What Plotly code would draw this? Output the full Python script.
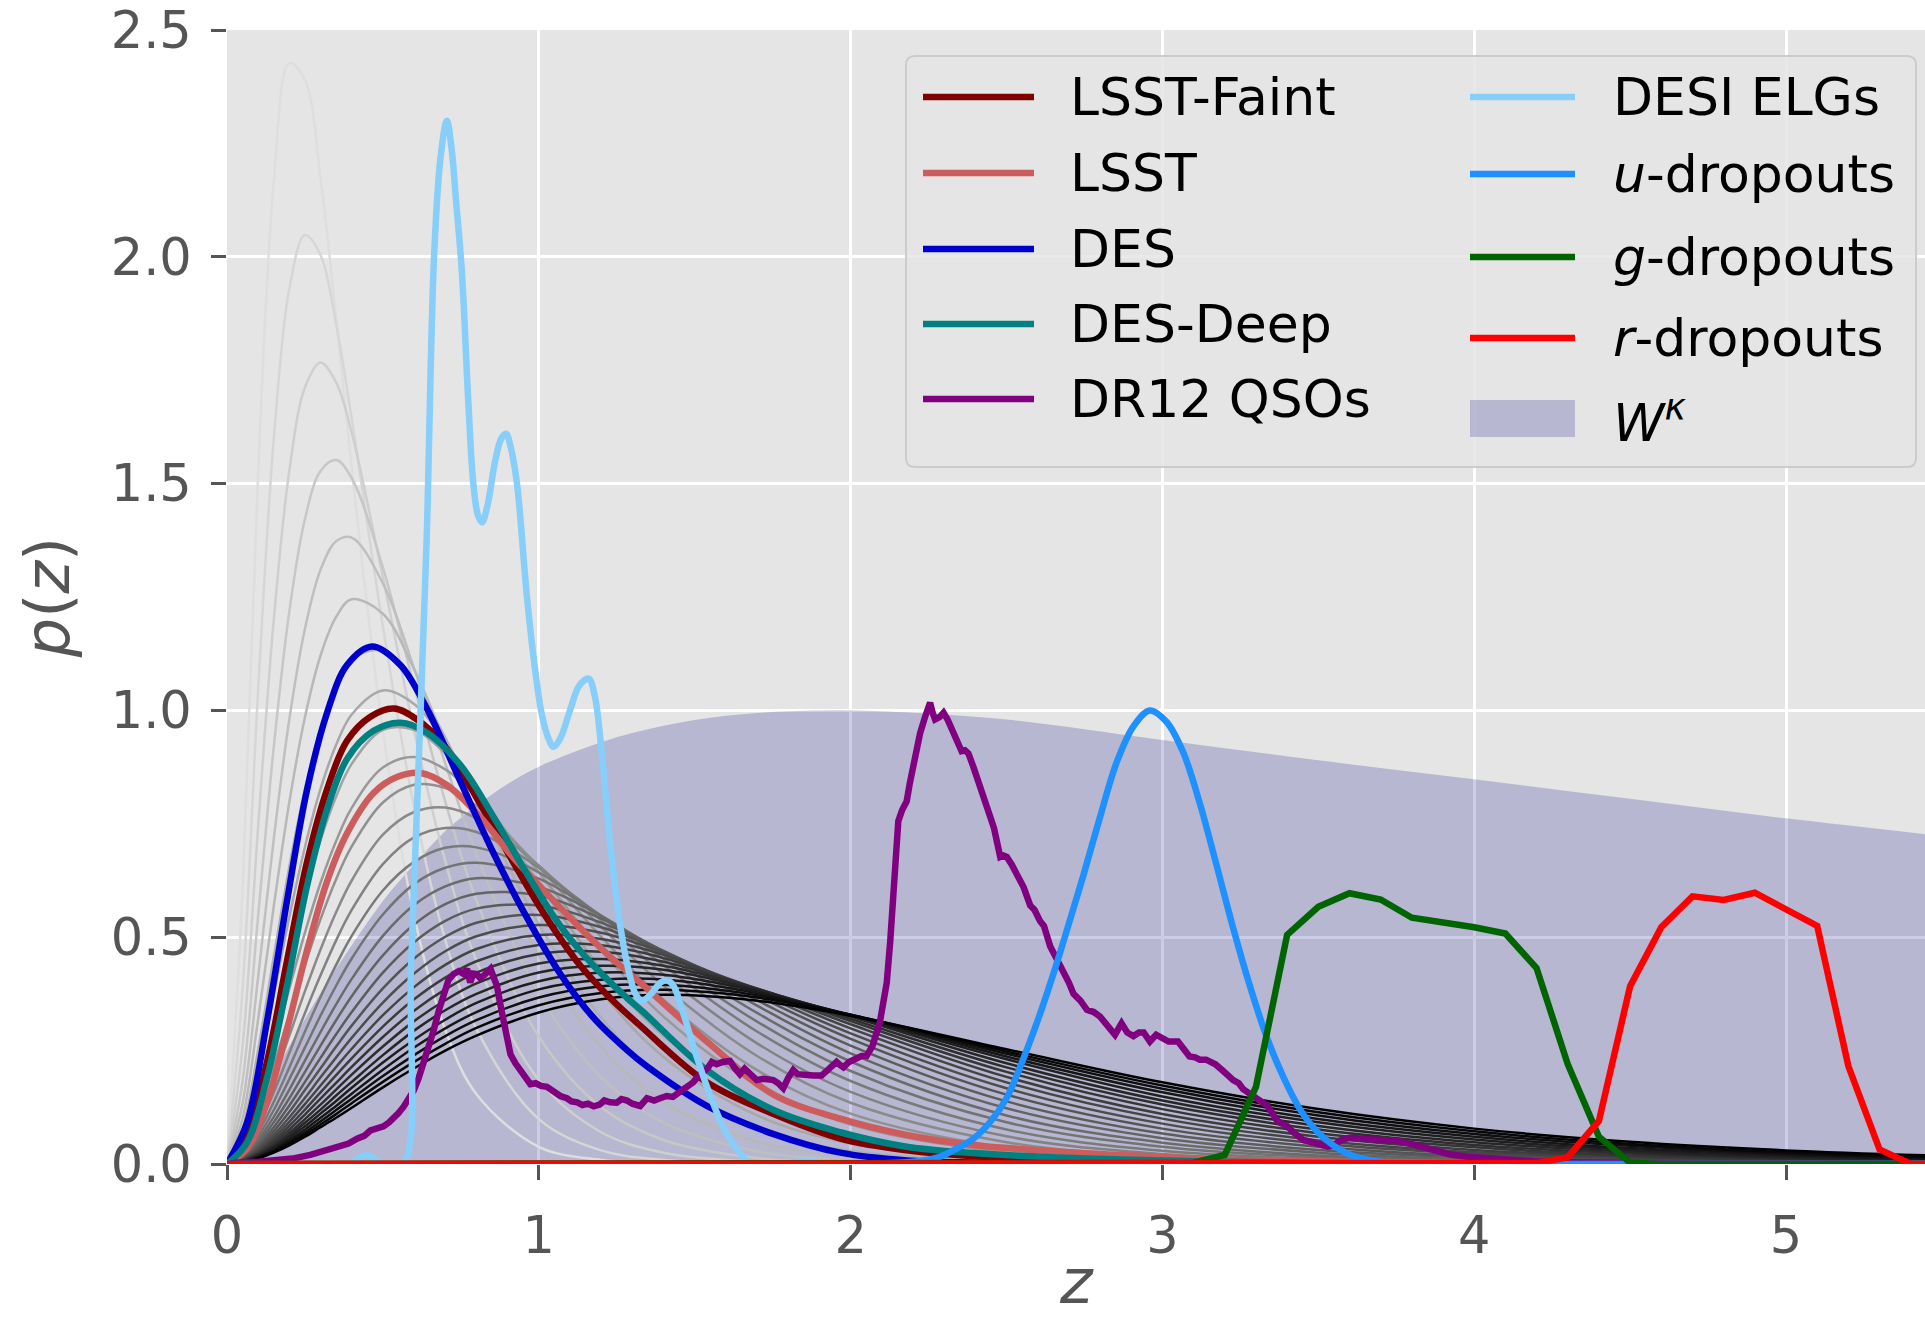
import plotly.graph_objects as go

# ---------------------------------------------------------------------------
# Redshift distributions p(z)
# ---------------------------------------------------------------------------
LSST_FAINT_Z = [0, 0.064, 0.128, 0.192, 0.257, 0.321, 0.385, 0.46, 0.535, 0.609, 0.695, 0.80,
                0.909, 1.016, 1.123, 1.229, 1.325, 1.539, 1.753, 1.967, 2.18, 2.394, 2.607,
                3.0, 3.5, 4.0, 5.5]
LSST_FAINT_P = [0, 0.065, 0.224, 0.446, 0.667, 0.826, 0.933, 0.986, 1.004, 0.98, 0.924, 0.808,
                0.676, 0.552, 0.446, 0.366, 0.305, 0.18, 0.11, 0.056, 0.03, 0.017, 0.01,
                0.004, 0.001, 0, 0]

LSST_Z = [0, 0.064, 0.128, 0.192, 0.257, 0.321, 0.385, 0.47, 0.545, 0.62, 0.706, 0.812, 0.919,
          1.0, 1.133, 1.24, 1.325, 1.539, 1.753, 1.967, 2.18, 2.394, 2.607, 2.864, 3.2, 3.6,
          4.0, 4.5, 5.5]
LSST_P = [0, 0.034, 0.136, 0.295, 0.472, 0.623, 0.729, 0.818, 0.853, 0.862, 0.835, 0.765, 0.675,
          0.615, 0.52, 0.45, 0.40, 0.27, 0.153, 0.10, 0.064, 0.042, 0.03, 0.02, 0.01, 0.005,
          0.002, 0.001, 0]

DES_Z = [0, 0.064, 0.128, 0.192, 0.257, 0.321, 0.385, 0.465, 0.556, 0.641, 0.748, 0.855, 0.962,
         1.069, 1.176, 1.283, 1.347, 1.539, 1.753, 1.967, 2.18, 2.4, 2.7, 3.0, 3.5, 5.5]
DES_P = [0, 0.091, 0.313, 0.578, 0.826, 0.995, 1.10, 1.141, 1.10, 1.004, 0.844, 0.685, 0.543,
         0.419, 0.322, 0.251, 0.215, 0.128, 0.066, 0.025, 0.008, 0.003, 0.001, 0, 0, 0]

DES_DEEP_Z = [0, 0.064, 0.128, 0.192, 0.257, 0.321, 0.385, 0.47, 0.556, 0.641, 0.748, 0.855,
              0.962, 1.069, 1.176, 1.283, 1.335, 1.539, 1.753, 1.967, 2.18, 2.394, 2.607, 2.864,
              3.2, 3.6, 4.0, 5.5]
DES_DEEP_P = [0, 0.047, 0.189, 0.392, 0.614, 0.782, 0.893, 0.955, 0.973, 0.951, 0.88, 0.765,
              0.64, 0.525, 0.437, 0.366, 0.335, 0.207, 0.119, 0.07, 0.038, 0.024, 0.016, 0.01,
              0.005, 0.002, 0.001, 0]

# DR12 quasars: a noisy histogram-like curve, given as (z, p) pairs
QSO_POINTS = [
    (0.0, 0.0), (0.03, 0.003), (0.10, 0.005), (0.16, 0.007), (0.21, 0.012), (0.267, 0.02),
    (0.31, 0.028), (0.353, 0.038), (0.39, 0.045), (0.417, 0.056), (0.44, 0.062), (0.46, 0.074),
    (0.48, 0.078), (0.502, 0.083), (0.52, 0.092), (0.534, 0.10), (0.55, 0.112), (0.567, 0.127),
    (0.585, 0.145), (0.599, 0.162), (0.615, 0.19), (0.631, 0.224), (0.647, 0.26), (0.663, 0.295),
    (0.68, 0.34), (0.695, 0.375), (0.71, 0.405), (0.727, 0.419), (0.743, 0.425), (0.759, 0.419),
    (0.77, 0.43), (0.78, 0.40), (0.79, 0.42), (0.80, 0.419), (0.812, 0.41), (0.823, 0.415),
    (0.835, 0.425), (0.845, 0.43), (0.856, 0.41), (0.866, 0.392), (0.877, 0.35), (0.887, 0.313),
    (0.898, 0.27), (0.909, 0.242), (0.925, 0.222), (0.94, 0.207), (0.955, 0.19), (0.973, 0.176),
    (0.99, 0.178), (1.007, 0.172), (1.026, 0.17), (1.047, 0.16), (1.069, 0.15), (1.09, 0.145),
    (1.105, 0.138), (1.123, 0.136), (1.14, 0.13), (1.158, 0.133), (1.176, 0.127), (1.195, 0.131),
    (1.21, 0.14), (1.229, 0.136), (1.25, 0.135), (1.265, 0.143), (1.283, 0.14), (1.30, 0.133),
    (1.325, 0.128), (1.347, 0.145), (1.37, 0.14), (1.389, 0.145), (1.41, 0.15), (1.43, 0.148),
    (1.453, 0.158), (1.475, 0.17), (1.495, 0.18), (1.517, 0.198), (1.54, 0.21), (1.555, 0.225),
    (1.57, 0.22), (1.59, 0.225), (1.613, 0.227), (1.63, 0.21), (1.645, 0.198), (1.66, 0.21),
    (1.677, 0.20), (1.69, 0.19), (1.699, 0.185), (1.72, 0.188), (1.735, 0.186), (1.752, 0.185),
    (1.768, 0.178), (1.784, 0.167), (1.80, 0.19), (1.816, 0.207), (1.83, 0.198), (1.845, 0.196),
    (1.859, 0.195), (1.88, 0.195), (1.907, 0.195), (1.93, 0.21), (1.955, 0.225), (1.967, 0.218),
    (1.977, 0.213), (1.995, 0.225), (2.019, 0.233), (2.035, 0.238), (2.051, 0.238), (2.07, 0.26),
    (2.094, 0.313), (2.116, 0.40), (2.127, 0.49), (2.137, 0.58), (2.145, 0.68), (2.153, 0.756),
    (2.165, 0.78), (2.18, 0.80), (2.19, 0.84), (2.201, 0.88), (2.212, 0.92), (2.223, 0.95),
    (2.239, 0.986), (2.247, 1.005), (2.255, 1.017), (2.263, 0.995), (2.271, 0.98), (2.285, 0.985),
    (2.298, 0.995), (2.311, 0.98), (2.324, 0.96), (2.34, 0.94), (2.356, 0.91), (2.367, 0.912),
    (2.378, 0.905), (2.394, 0.875), (2.41, 0.845), (2.426, 0.81), (2.437, 0.79), (2.448, 0.765),
    (2.46, 0.74), (2.48, 0.677), (2.49, 0.68), (2.501, 0.677), (2.517, 0.66), (2.533, 0.64),
    (2.555, 0.61), (2.576, 0.57), (2.59, 0.56), (2.608, 0.535), (2.62, 0.525), (2.64, 0.48),
    (2.66, 0.455), (2.683, 0.42), (2.70, 0.40), (2.715, 0.375), (2.737, 0.36), (2.758, 0.34),
    (2.78, 0.335), (2.80, 0.325), (2.822, 0.305), (2.848, 0.285), (2.869, 0.31), (2.887, 0.29),
    (2.907, 0.282), (2.925, 0.29), (2.94, 0.29), (2.96, 0.27), (2.98, 0.285), (3.0, 0.278),
    (3.02, 0.27), (3.05, 0.27), (3.07, 0.255), (3.087, 0.237), (3.105, 0.235), (3.12, 0.23),
    (3.14, 0.23), (3.17, 0.22), (3.195, 0.205), (3.21, 0.195), (3.227, 0.185), (3.245, 0.178),
    (3.259, 0.165), (3.28, 0.155), (3.302, 0.145), (3.32, 0.14), (3.334, 0.13), (3.35, 0.115),
    (3.366, 0.097), (3.38, 0.09), (3.398, 0.085), (3.42, 0.07), (3.452, 0.053), (3.48, 0.048),
    (3.506, 0.041), (3.53, 0.038), (3.548, 0.04), (3.57, 0.052), (3.602, 0.058), (3.65, 0.056),
    (3.709, 0.053), (3.76, 0.05), (3.816, 0.041), (3.87, 0.032), (3.923, 0.021), (3.98, 0.016),
    (4.03, 0.013), (4.1, 0.01), (4.19, 0.006), (4.3, 0.004), (4.4, 0.003), (4.5, 0.002),
    (4.7, 0.001), (5.0, 0.001), (5.5, 0.0),
]

DESI_Z = [0, 0.39, 0.42, 0.449, 0.475, 0.50, 0.565, 0.59, 0.615, 0.64, 0.664, 0.685, 0.705, 0.72,
          0.735, 0.753, 0.774, 0.79, 0.805, 0.818, 0.835, 0.86, 0.88, 0.895, 0.91, 0.93, 0.962,
          0.99, 1.01, 1.03, 1.047, 1.07, 1.10, 1.13, 1.16, 1.18, 1.20, 1.23, 1.26, 1.29, 1.31,
          1.33, 1.36, 1.39, 1.41, 1.43, 1.46, 1.50, 1.55, 1.60, 1.65, 1.68, 1.80, 1.83, 1.86,
          1.89, 1.92, 5.5]
DESI_P = [0, 0, 0.012, 0.02, 0.01, 0, 0, 0.43, 0.89, 1.37, 2.0, 2.22, 2.30, 2.24,
          2.12, 1.97, 1.68, 1.50, 1.43, 1.415, 1.45, 1.55, 1.60, 1.61, 1.58, 1.50, 1.25,
          1.08, 0.99, 0.94, 0.92, 0.94, 1.00, 1.055, 1.07, 1.03, 0.92, 0.70, 0.53, 0.42, 0.375,
          0.36, 0.375, 0.40, 0.405, 0.395, 0.34, 0.25, 0.15, 0.07, 0.02, 0, 0, 0.006, 0.008,
          0.005, 0, 0]

U_DROP_Z = [0, 2.0, 2.18, 2.233, 2.287, 2.34, 2.394, 2.447, 2.50, 2.554, 2.607, 2.66, 2.70,
            2.746, 2.80, 2.853, 2.907, 2.96, 3.013, 3.067, 3.12, 3.174, 3.227, 3.28, 3.334,
            3.387, 3.441, 3.494, 3.548, 3.60, 3.655, 3.71, 3.8, 4.0, 5.5]
U_DROP_P = [0, 0, 0.004, 0.008, 0.016, 0.034, 0.056, 0.092, 0.145, 0.232, 0.33, 0.44, 0.53,
            0.635, 0.765, 0.885, 0.965, 1.0, 0.975, 0.907, 0.795, 0.658, 0.52, 0.394, 0.281,
            0.193, 0.121, 0.073, 0.041, 0.021, 0.01, 0.004, 0.001, 0, 0]

G_DROP_Z = [0, 3.0, 3.1, 3.2, 3.3, 3.4, 3.5, 3.6, 3.7, 3.8, 3.9, 4.0, 4.1, 4.2, 4.3, 4.4, 4.5,
            4.6, 5.5]
G_DROP_P = [0, 0, 0.003, 0.02, 0.17, 0.505, 0.567, 0.597, 0.583, 0.543, 0.533, 0.522, 0.508,
            0.432, 0.22, 0.06, 0.003, 0, 0]

R_DROP_Z = [0, 4.1, 4.2, 4.3, 4.4, 4.5, 4.6, 4.7, 4.8, 4.9, 5.0, 5.1, 5.2, 5.3, 5.4, 5.5]
R_DROP_P = [0, 0, 0.002, 0.015, 0.095, 0.392, 0.522, 0.59, 0.582, 0.598, 0.561, 0.525, 0.216,
            0.032, 0.0, 0.0]

# CMB lensing kernel W^kappa, normalised to unit maximum
W_KAPPA_Z = [0, 0.1, 0.2, 0.3, 0.4, 0.5, 0.6, 0.7, 0.8, 0.9, 1.0, 1.2, 1.4, 1.6, 1.8, 2.0, 2.2,
             2.5, 3.0, 3.5, 4.0, 4.5, 5.0, 5.5]
W_KAPPA_P = [0, 0.133, 0.26, 0.377, 0.482, 0.58, 0.66, 0.734, 0.79, 0.838, 0.876, 0.93, 0.966,
             0.988, 0.998, 1.0, 0.995, 0.98, 0.935, 0.89, 0.848, 0.805, 0.762, 0.723]

# Family of hypothetical samples with increasing median redshift (light -> dark)
GRAY_Z = [0, 0.05, 0.1, 0.15, 0.2, 0.25, 0.3, 0.35, 0.4, 0.5, 0.6, 0.7, 0.8, 1.0, 1.2, 1.4, 1.7,
          2.0, 2.5, 3.0, 3.5, 4.0, 4.5, 5.0, 5.5]
GRAY_FAMILY = [
    [0, 0.605, 1.525, 2.164, 2.427, 2.390, 2.173, 1.864, 1.534, 0.955, 0.548, 0.296, 0.154, 0.038, 0.009, 0.002, 0, 0, 0, 0, 0, 0, 0, 0, 0],
    [0, 0.385, 1.046, 1.598, 1.930, 2.048, 2.004, 1.852, 1.643, 1.185, 0.787, 0.494, 0.298, 0.099, 0.030, 0.009, 0.001, 0, 0, 0, 0, 0, 0, 0, 0],
    [0, 0.260, 0.745, 1.200, 1.529, 1.712, 1.767, 1.723, 1.612, 1.293, 0.956, 0.668, 0.448, 0.185, 0.070, 0.025, 0.005, 0.001, 0, 0, 0, 0, 0, 0, 0],
    [0, 0.183, 0.548, 0.919, 1.219, 1.422, 1.528, 1.552, 1.512, 1.315, 1.054, 0.799, 0.581, 0.281, 0.125, 0.053, 0.013, 0.003, 0, 0, 0, 0, 0, 0, 0],
    [0, 0.134, 0.413, 0.717, 0.981, 1.180, 1.310, 1.373, 1.381, 1.280, 1.093, 0.883, 0.684, 0.376, 0.191, 0.091, 0.028, 0.008, 0.001, 0, 0, 0, 0, 0, 0],
    [0, 0.101, 0.320, 0.568, 0.798, 0.985, 1.121, 1.206, 1.245, 1.213, 1.091, 0.928, 0.756, 0.460, 0.258, 0.137, 0.049, 0.017, 0.002, 0, 0, 0, 0, 0, 0],
    [0, 0.078, 0.252, 0.457, 0.656, 0.827, 0.961, 1.056, 1.113, 1.132, 1.061, 0.940, 0.799, 0.529, 0.323, 0.186, 0.076, 0.029, 0.005, 0.001, 0, 0, 0, 0, 0],
    [0, 0.061, 0.202, 0.373, 0.545, 0.699, 0.827, 0.924, 0.991, 1.044, 1.014, 0.931, 0.819, 0.582, 0.381, 0.236, 0.107, 0.045, 0.010, 0.002, 0, 0, 0, 0, 0],
    [0, 0.049, 0.164, 0.308, 0.457, 0.595, 0.714, 0.810, 0.882, 0.957, 0.957, 0.905, 0.821, 0.619, 0.430, 0.283, 0.140, 0.065, 0.016, 0.004, 0.001, 0, 0, 0, 0],
    [0, 0.040, 0.136, 0.257, 0.387, 0.510, 0.620, 0.712, 0.785, 0.874, 0.897, 0.870, 0.810, 0.643, 0.471, 0.325, 0.174, 0.087, 0.025, 0.007, 0.002, 0, 0, 0, 0],
    [0, 0.033, 0.113, 0.217, 0.330, 0.439, 0.540, 0.628, 0.700, 0.797, 0.836, 0.829, 0.790, 0.655, 0.501, 0.362, 0.207, 0.111, 0.036, 0.011, 0.003, 0.001, 0, 0, 0],
    [0, 0.028, 0.095, 0.185, 0.283, 0.381, 0.473, 0.555, 0.625, 0.726, 0.776, 0.786, 0.762, 0.658, 0.523, 0.393, 0.238, 0.135, 0.048, 0.016, 0.005, 0.001, 0, 0, 0],
    [0, 0.023, 0.081, 0.158, 0.245, 0.333, 0.416, 0.493, 0.560, 0.661, 0.720, 0.741, 0.732, 0.653, 0.537, 0.418, 0.266, 0.159, 0.061, 0.022, 0.007, 0.002, 0.001, 0, 0],
    [0, 0.020, 0.069, 0.137, 0.213, 0.292, 0.368, 0.439, 0.503, 0.603, 0.666, 0.697, 0.698, 0.643, 0.546, 0.438, 0.292, 0.183, 0.076, 0.029, 0.011, 0.004, 0.001, 0, 0],
    [0, 0.017, 0.060, 0.119, 0.187, 0.257, 0.327, 0.393, 0.453, 0.550, 0.617, 0.653, 0.664, 0.629, 0.548, 0.452, 0.314, 0.205, 0.092, 0.038, 0.015, 0.005, 0.002, 0.001, 0],
    [0, 0.015, 0.052, 0.104, 0.164, 0.228, 0.291, 0.352, 0.408, 0.503, 0.571, 0.612, 0.630, 0.611, 0.547, 0.462, 0.333, 0.226, 0.107, 0.047, 0.019, 0.008, 0.003, 0.001, 0],
    [0, 0.013, 0.046, 0.092, 0.145, 0.203, 0.261, 0.317, 0.370, 0.460, 0.528, 0.573, 0.596, 0.592, 0.541, 0.468, 0.349, 0.244, 0.123, 0.057, 0.025, 0.010, 0.004, 0.002, 0.001],
    [0, 0.011, 0.040, 0.081, 0.129, 0.181, 0.234, 0.286, 0.335, 0.422, 0.489, 0.536, 0.563, 0.570, 0.532, 0.470, 0.361, 0.261, 0.138, 0.067, 0.031, 0.014, 0.006, 0.002, 0.001],
    [0, 0.010, 0.036, 0.072, 0.115, 0.163, 0.211, 0.259, 0.305, 0.387, 0.453, 0.501, 0.532, 0.549, 0.522, 0.469, 0.371, 0.276, 0.153, 0.078, 0.038, 0.017, 0.008, 0.003, 0.001],
    [0, 0.009, 0.032, 0.064, 0.103, 0.146, 0.191, 0.235, 0.278, 0.356, 0.420, 0.469, 0.502, 0.527, 0.510, 0.466, 0.378, 0.288, 0.167, 0.089, 0.045, 0.022, 0.010, 0.005, 0.002],
    [0, 0.008, 0.028, 0.058, 0.093, 0.132, 0.173, 0.214, 0.254, 0.328, 0.390, 0.439, 0.474, 0.505, 0.496, 0.461, 0.383, 0.299, 0.180, 0.100, 0.052, 0.026, 0.013, 0.006, 0.003],
    [0, 0.007, 0.025, 0.052, 0.084, 0.120, 0.158, 0.196, 0.233, 0.303, 0.363, 0.411, 0.447, 0.483, 0.482, 0.454, 0.386, 0.308, 0.192, 0.110, 0.060, 0.031, 0.016, 0.008, 0.004],
    [0, 0.006, 0.023, 0.047, 0.076, 0.109, 0.144, 0.179, 0.214, 0.280, 0.338, 0.385, 0.422, 0.463, 0.468, 0.446, 0.387, 0.315, 0.203, 0.121, 0.068, 0.037, 0.019, 0.010, 0.005],
    [0, 0.006, 0.021, 0.042, 0.069, 0.099, 0.131, 0.164, 0.197, 0.259, 0.315, 0.361, 0.398, 0.442, 0.452, 0.437, 0.386, 0.320, 0.213, 0.131, 0.076, 0.042, 0.023, 0.012, 0.006],
    [0, 0.005, 0.019, 0.039, 0.063, 0.091, 0.120, 0.151, 0.181, 0.240, 0.294, 0.339, 0.375, 0.422, 0.437, 0.428, 0.384, 0.325, 0.222, 0.140, 0.084, 0.048, 0.027, 0.014, 0.008],
    [0, 0.005, 0.017, 0.035, 0.058, 0.083, 0.111, 0.139, 0.168, 0.224, 0.274, 0.318, 0.355, 0.403, 0.422, 0.417, 0.381, 0.327, 0.231, 0.149, 0.092, 0.054, 0.031, 0.017, 0.009],
    [0, 0.004, 0.015, 0.032, 0.053, 0.076, 0.102, 0.128, 0.155, 0.208, 0.257, 0.299, 0.335, 0.385, 0.406, 0.407, 0.377, 0.329, 0.237, 0.158, 0.099, 0.060, 0.035, 0.020, 0.011],
    [0, 0.004, 0.014, 0.029, 0.049, 0.070, 0.094, 0.119, 0.144, 0.194, 0.240, 0.282, 0.317, 0.367, 0.392, 0.395, 0.372, 0.329, 0.243, 0.166, 0.107, 0.066, 0.040, 0.023, 0.013],
    [0, 0.003, 0.013, 0.027, 0.045, 0.065, 0.087, 0.110, 0.134, 0.181, 0.225, 0.265, 0.300, 0.350, 0.377, 0.384, 0.367, 0.329, 0.248, 0.173, 0.114, 0.072, 0.044, 0.026, 0.015],
    [0, 0.003, 0.012, 0.025, 0.041, 0.060, 0.081, 0.102, 0.124, 0.169, 0.211, 0.250, 0.283, 0.334, 0.363, 0.373, 0.360, 0.327, 0.253, 0.180, 0.121, 0.078, 0.049, 0.030, 0.018],
]

X_TICKS = [0, 1, 2, 3, 4, 5]
Y_TICKS = [0.0, 0.5, 1.0, 1.5, 2.0, 2.5]

# ---------------------------------------------------------------------------
# Figure geometry and styling
# ---------------------------------------------------------------------------
FIG_W, FIG_H = 1925, 1321
M_L, M_R, M_T, M_B = 227, 0, 30, 157
PLOT_W = FIG_W - M_L - M_R
PLOT_H = FIG_H - M_T - M_B
X_MAX = PLOT_W / 311.8
FONT = "DejaVu Sans"
AXIS_GREY = "#555555"
LINE_W = 6.5
KAPPA_FILL = "rgba(0,0,128,0.2)"
LEGEND_SIZE = 52
LABEL_SIZE = 62


def paper_x(px):
    return (px - M_L) / PLOT_W


def paper_y(py):
    return (FIG_H - M_B - py) / PLOT_H


qso_z = [pt[0] for pt in QSO_POINTS]
qso_p = [pt[1] for pt in QSO_POINTS]

fig = go.Figure()

# lensing kernel (shaded band underneath the curves)
fig.add_trace(go.Scatter(
    x=W_KAPPA_Z, y=W_KAPPA_P, mode="lines", fill="tozeroy", fillcolor=KAPPA_FILL,
    line=dict(width=0, shape="spline"), name="W^kappa", showlegend=False,
))

# grey family, light to dark
n_gray = len(GRAY_FAMILY)
for k, vals in enumerate(GRAY_FAMILY):
    level = int(round(222 * (1 - k / (n_gray - 1))))
    fig.add_trace(go.Scatter(
        x=GRAY_Z, y=vals, mode="lines",
        line=dict(color=f"rgb({level},{level},{level})", width=2.5, shape="spline"),
        hoverinfo="skip", showlegend=False,
    ))

SERIES = [
    ("LSST-Faint", LSST_FAINT_Z, LSST_FAINT_P, "#800000", "spline"),
    ("LSST", LSST_Z, LSST_P, "#CD5C5C", "spline"),
    ("DES", DES_Z, DES_P, "#0000CD", "spline"),
    ("DES-Deep", DES_DEEP_Z, DES_DEEP_P, "#008080", "spline"),
    ("DR12 QSOs", qso_z, qso_p, "#800080", "linear"),
    ("DESI ELGs", DESI_Z, DESI_P, "#87CEFA", "spline"),
    ("<i>u</i>-dropouts", U_DROP_Z, U_DROP_P, "#1E90FF", "spline"),
    ("<i>g</i>-dropouts", G_DROP_Z, G_DROP_P, "#006400", "linear"),
    ("<i>r</i>-dropouts", R_DROP_Z, R_DROP_P, "#FF0000", "linear"),
]
for name, zs, ps, color, shape in SERIES:
    fig.add_trace(go.Scatter(
        x=zs, y=ps, mode="lines", name=name,
        line=dict(color=color, width=LINE_W, shape=shape),
        showlegend=False,
    ))

# ---------------------------------------------------------------------------
# Two-column legend drawn as shapes + text
# ---------------------------------------------------------------------------
shapes = []
annotations = []

bx0, bx1, by0, by1 = paper_x(906), paper_x(1916), paper_y(467), paper_y(56)
rx, ry = 9 / PLOT_W, 9 / PLOT_H
frame_path = (
    f"M {bx0 + rx},{by0} L {bx1 - rx},{by0} Q {bx1},{by0} {bx1},{by0 + ry} "
    f"L {bx1},{by1 - ry} Q {bx1},{by1} {bx1 - rx},{by1} L {bx0 + rx},{by1} "
    f"Q {bx0},{by1} {bx0},{by1 - ry} L {bx0},{by0 + ry} Q {bx0},{by0} {bx0 + rx},{by0} Z"
)
shapes.append(dict(type="path", xref="paper", yref="paper", path=frame_path,
                   fillcolor="rgba(229,229,229,0.85)", line=dict(color="#CCCCCC", width=2),
                   layer="above"))

col1_rows = [97, 173, 249, 324, 399]
col2_rows = [97, 174, 257, 338, 419]
columns = [
    (SERIES[0:5], col1_rows, 923, 1034, 1068),
    (SERIES[5:9], col2_rows[:4], 1470, 1575, 1611),
]
for items, rows, lx0, lx1, tx in columns:
    for (name, _, _, color, _), ry_px in zip(items, rows):
        shapes.append(dict(type="line", xref="paper", yref="paper",
                           x0=paper_x(lx0), x1=paper_x(lx1),
                           y0=paper_y(ry_px), y1=paper_y(ry_px),
                           line=dict(color=color, width=LINE_W), layer="above"))
        annotations.append(dict(xref="paper", yref="paper", x=paper_x(tx), y=paper_y(ry_px),
                                text=name, showarrow=False, xanchor="left", yanchor="middle",
                                font=dict(family=FONT, size=LEGEND_SIZE, color="black")))

# kernel patch entry
shapes.append(dict(type="rect", xref="paper", yref="paper",
                   x0=paper_x(1470), x1=paper_x(1575), y0=paper_y(437), y1=paper_y(400),
                   fillcolor=KAPPA_FILL, line=dict(width=0), layer="above"))
annotations.append(dict(xref="paper", yref="paper", x=paper_x(1611), y=paper_y(col2_rows[4]),
                        text="<i>W</i><sup><i>κ</i></sup>", showarrow=False,
                        xanchor="left", yanchor="middle",
                        font=dict(family=FONT, size=LEGEND_SIZE, color="black")))

# x-axis label placed as paper text, resting on the bottom edge of the figure
annotations.append(dict(xref="paper", yref="paper", x=0.5, y=paper_y(FIG_H - 1),
                        text="<i>z</i>", showarrow=False, xanchor="center", yanchor="bottom",
                        font=dict(family=FONT, size=LABEL_SIZE, color=AXIS_GREY)))

axis_common = dict(
    ticks="outside", ticklen=15, tickwidth=3, tickcolor=AXIS_GREY,
    tickfont=dict(family=FONT, size=51, color=AXIS_GREY),
    showgrid=True, gridcolor="white", gridwidth=3,
    zeroline=False, showline=False, automargin=False,
)

fig.update_layout(
    width=FIG_W, height=FIG_H,
    margin=dict(l=M_L, r=M_R, t=M_T, b=M_B, pad=0, autoexpand=False),
    paper_bgcolor="white", plot_bgcolor="#E5E5E5",
    showlegend=False,
    font=dict(family=FONT, color=AXIS_GREY),
    xaxis=dict(
        range=[0, X_MAX], tickmode="array", tickvals=X_TICKS,
        ticktext=[str(v) for v in X_TICKS], ticklabelstandoff=12,
        **axis_common,
    ),
    yaxis=dict(
        range=[0, 2.5], tickmode="array", tickvals=Y_TICKS,
        ticktext=[f"{v:.1f}" for v in Y_TICKS], ticklabelstandoff=9,
        title=dict(text="<i>p</i>(<i>z</i>)", font=dict(family=FONT, size=LABEL_SIZE, color=AXIS_GREY),
                   standoff=20),
        **axis_common,
    ),
    shapes=shapes,
    annotations=annotations,
)

fig.write_html("out.html")
